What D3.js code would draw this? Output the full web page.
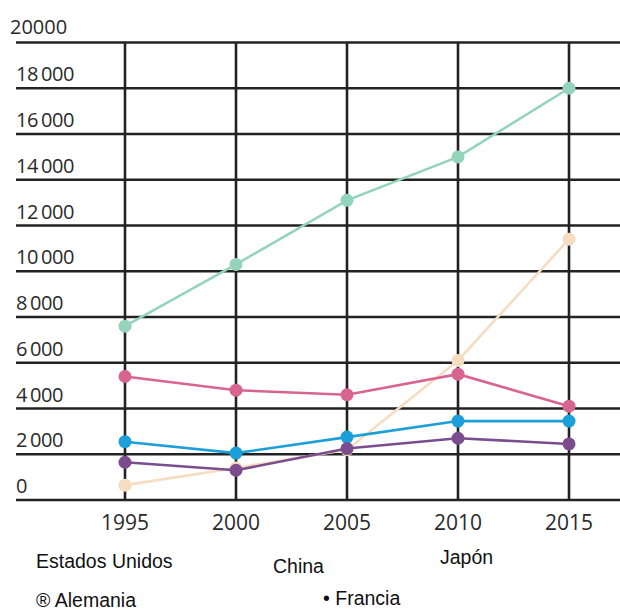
<!DOCTYPE html>
<html>
<head>
<meta charset="utf-8">
<script src="https://cdn.jsdelivr.net/npm/d3@7"></script>
<style>
  body { margin: 0; background: #fff; }
  svg { display: block; }
</style>
</head>
<body>
<svg id="chart" width="620" height="611"></svg>
<script>
  // data
  const years = [1995, 2000, 2005, 2010, 2015];
  const yTicks = [0, 2000, 4000, 6000, 8000, 10000, 12000, 14000, 16000, 18000, 20000];
  const estadosUnidos = [7600, 10300, 13100, 15000, 18000];
  const china = [650, 1400, 2200, 6100, 11400];
  const japon = [5400, 4800, 4600, 5500, 4100];
  const alemania = [2550, 2050, 2750, 3450, 3450];
  const francia = [1650, 1300, 2250, 2700, 2450];

  const seriesNames = ["Estados Unidos", "China", "Japón", "Alemania", "Francia"];
  const seriesValues = [estadosUnidos, china, japon, alemania, francia];
  const seriesColors = ["#93d4bb", "#f6dcc1", "#d8658f", "#1c9fd8", "#7c4d8e"];
  // drawing order: back to front
  const drawOrder = [0, 1, 2, 3, 4];

  const svg = d3.select("#chart");
  const gridColor = "#222";

  const x = d3.scalePoint().domain(years).range([125, 569]);
  const y = d3.scaleLinear().domain([0, 20000]).range([500, 42.5]);

  // horizontal grid
  svg.append("g")
    .selectAll("line")
    .data(yTicks)
    .enter()
    .append("line")
      .attr("x1", 16)
      .attr("x2", 620)
      .attr("y1", d => y(d))
      .attr("y2", d => y(d))
      .attr("stroke", gridColor)
      .attr("stroke-width", 2.6);

  // vertical grid
  svg.append("g")
    .selectAll("line")
    .data(years)
    .enter()
    .append("line")
      .attr("x1", d => x(d))
      .attr("x2", d => x(d))
      .attr("y1", y(20000))
      .attr("y2", y(0))
      .attr("stroke", gridColor)
      .attr("stroke-width", 2.6);

  // y labels sit above their line
  svg.append("g")
    .selectAll("text")
    .data(yTicks)
    .enter()
    .append("text")
      .attr("x", d => d === 20000 ? 10 : 16)
      .attr("y", d => y(d) - (d === 20000 ? 9 : 7))
      .attr("font-family", "'Open Sans', sans-serif")
      .attr("font-size", 20)
      .attr("font-weight", 500)
      .attr("letter-spacing", d => d === 20000 ? 0 : -0.4)
      .attr("fill", "#2a2a2a")
      .text(d => (d === 20000 || d === 0) ? String(d) : d3.format(",")(d).replace(",", "\u2009"));

  // x labels
  svg.append("g")
    .selectAll("text")
    .data(years)
    .enter()
    .append("text")
      .attr("x", d => x(d))
      .attr("y", 530)
      .attr("text-anchor", "middle")
      .attr("font-family", "'Open Sans', sans-serif")
      .attr("font-size", 21)
      .attr("font-weight", 500)
      .attr("fill", "#2a2a2a")
      .text(d => d);

  const line = d3.line()
    .x((d, i) => x(years[i]))
    .y(d => y(d));

  drawOrder.forEach(k => {
    const g = svg.append("g");
    g.append("path")
      .datum(seriesValues[k])
      .attr("d", line)
      .attr("fill", "none")
      .attr("stroke", seriesColors[k])
      .attr("stroke-width", 2.6);
    g.selectAll("circle")
      .data(seriesValues[k])
      .enter()
      .append("circle")
        .attr("cx", (d, i) => x(years[i]))
        .attr("cy", d => y(d))
        .attr("r", 6.5)
        .attr("fill", seriesColors[k]);
  });

  // legend, just loose text like in the scan
  const legendText = ["Estados Unidos", "China", "Japón", "® Alemania", "• Francia"];
  const legendPos = [[36, 568], [273, 573], [440, 564], [36, 607], [323, 605]];
  svg.append("g")
    .selectAll("text")
    .data(legendText)
    .enter()
    .append("text")
      .attr("x", (d, i) => legendPos[i][0])
      .attr("y", (d, i) => legendPos[i][1])
      .attr("font-family", "'Liberation Sans', Arial, sans-serif")
      .attr("font-size", 19.5)
      .attr("fill", "#111")
      .text(d => d);
</script>
</body>
</html>
